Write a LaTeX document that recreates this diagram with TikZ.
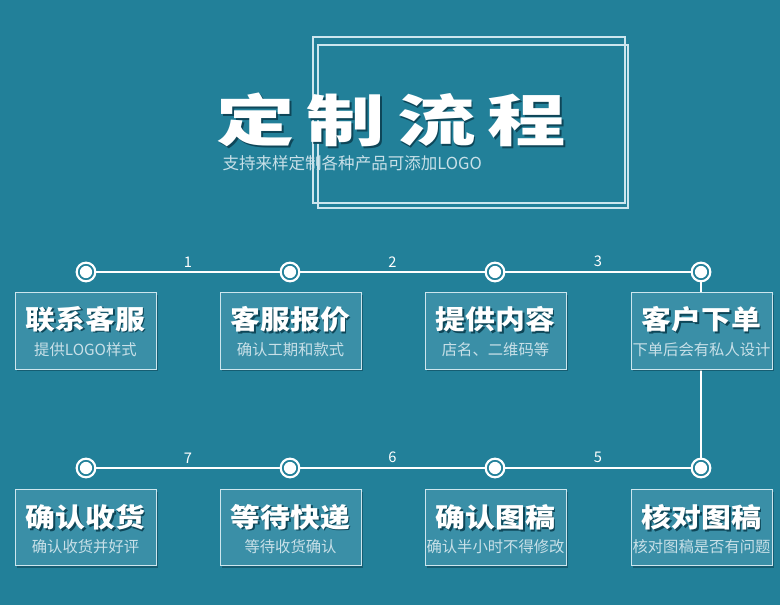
\documentclass[tikz,border=0pt]{standalone}
\usepackage{fontspec}
\setmainfont{Noto Sans CJK SC}
\usetikzlibrary{shadows}
\definecolor{sea}{RGB}{34,128,153}
\definecolor{seabox}{RGB}{58,143,167}
\definecolor{shade}{RGB}{14,70,88}
\definecolor{frameline}{RGB}{205,230,238}
\definecolor{subtext}{RGB}{200,224,232}
\newcommand\embossed[2]{\rlap{\kern#1\raisebox{-#1}{\textcolor{shade}{#2}}}#2}
\newcommand\wide[2]{\scalebox{#1}[1]{#2}}
\tikzset{every picture/.style={line width=0.75pt}}

\begin{document}
\begin{tikzpicture}[x=0.75pt, y=-0.75pt, every node/.style={inner sep=0pt, text=white},
    knot/.style={circle, draw=white, line width=1.6pt, fill=sea, minimum size=14pt,
      path picture={\fill[white] (path picture bounding box.center) circle (4.6pt);}},
    stepbox/.style={rectangle, draw=frameline, fill=seabox, minimum width=105.75pt, minimum height=57pt,
      drop shadow={shadow xshift=1.8pt, shadow yshift=-1.8pt, fill=shade, opacity=0.6}},
    steptitle/.style={font=\fontsize{20}{22}\selectfont\bfseries},
    stepnote/.style={font=\fontsize{11.5}{13}\selectfont, text=subtext},
    stepnum/.style={font=\fontsize{11}{12}\selectfont, above=3pt}]
        \useasboundingbox (0,0) rectangle (780,605);
        \fill[sea] (0,0) rectangle (780,605);
        % title frames
        \draw[frameline, line width=1.1pt] (313,37) rectangle (625,203);
        \draw[frameline, line width=1.1pt] (318,45) rectangle (628,208);
        % title
        \node[font=\fontsize{42}{46}\selectfont\bfseries] (title) at (391,121)
          {\embossed{1.4pt}{\wide{1.4}{定}\hspace{9pt}\wide{1.4}{制}\hspace{9pt}\wide{1.4}{流}\hspace{9pt}\wide{1.4}{程}}};
        \node[font=\fontsize{12.4}{14}\selectfont, anchor=west, text=subtext] (subtitle) at (222,163)
          {支持来样定制各种产品可添加LOGO};
        % timeline knots
        \node[knot] (c1) at (86,272) {};
        \node[knot] (c2) at (290,272) {};
        \node[knot] (c3) at (495,272) {};
        \node[knot] (c4) at (701,272) {};
        \node[knot] (c5) at (701,468) {};
        \node[knot] (c6) at (495,468) {};
        \node[knot] (c7) at (290,468) {};
        \node[knot] (c8) at (86,468) {};
        \draw[white, line width=1.3pt] (c1) -- node[stepnum] {1} (c2);
        \draw[white, line width=1.3pt] (c2) -- node[stepnum] {2} (c3);
        \draw[white, line width=1.3pt] (c3) -- node[stepnum] {3} (c4);
        \draw[white, line width=1.3pt] (c4) -- (c5);
        \draw[white, line width=1.3pt] (c5) -- node[stepnum] {5} (c6);
        \draw[white, line width=1.3pt] (c6) -- node[stepnum] {6} (c7);
        \draw[white, line width=1.3pt] (c7) -- node[stepnum] {7} (c8);
        % boxes, upper row
        \node[stepbox] (b1) at (85.5,331) {};
        \node[stepbox] (b2) at (290.5,331) {};
        \node[stepbox] (b3) at (495.5,331) {};
        \node[stepbox] (b4) at (701.5,331) {};
        % boxes, lower row
        \node[stepbox] (b5) at (701.5,527.5) {};
        \node[stepbox] (b6) at (495.5,527.5) {};
        \node[stepbox] (b7) at (290.5,527.5) {};
        \node[stepbox] (b8) at (85.5,527.5) {};
        % box texts
        \node[steptitle] (t1) at (85.5,320) {\embossed{1.2pt}{\wide{1.12}{联系客服}}};
        \node[stepnote] (n1) at (85.5,350) {提供LOGO样式};
        \node[steptitle] (t2) at (290.5,320) {\embossed{1.2pt}{\wide{1.12}{客服报价}}};
        \node[stepnote] (n2) at (290.5,350) {确认工期和款式};
        \node[steptitle] (t3) at (495.5,320) {\embossed{1.2pt}{\wide{1.12}{提供内容}}};
        \node[stepnote] (n3) at (495.5,350) {店名、二维码等};
        \node[steptitle] (t4) at (701.5,320) {\embossed{1.2pt}{\wide{1.12}{客户下单}}};
        \node[stepnote] (n4) at (701.5,350) {下单后会有私人设计};
        \node[steptitle] (t5) at (701.5,518) {\embossed{1.2pt}{\wide{1.12}{核对图稿}}};
        \node[stepnote] (n5) at (701.5,547) {核对图稿是否有问题};
        \node[steptitle] (t6) at (495.5,518) {\embossed{1.2pt}{\wide{1.12}{确认图稿}}};
        \node[stepnote] (n6) at (495.5,547) {确认半小时不得修改};
        \node[steptitle] (t7) at (290.5,518) {\embossed{1.2pt}{\wide{1.12}{等待快递}}};
        \node[stepnote] (n7) at (290.5,547) {等待收货确认};
        \node[steptitle] (t8) at (85.5,518) {\embossed{1.2pt}{\wide{1.12}{确认收货}}};
        \node[stepnote] (n8) at (85.5,547) {确认收货并好评};
    \end{tikzpicture}
\end{document}
